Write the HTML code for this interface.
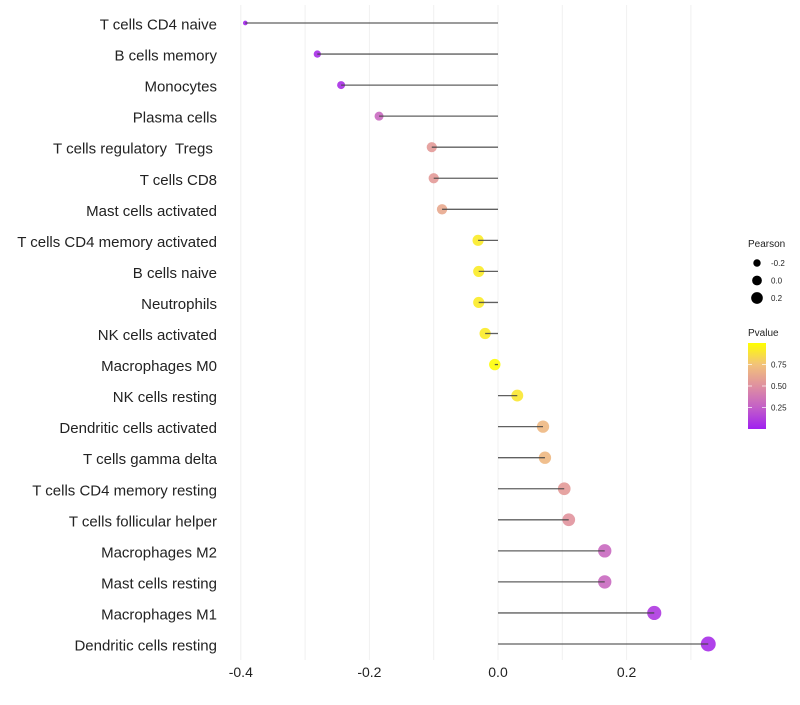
<!DOCTYPE html>
<html><head><meta charset="utf-8"><style>
body{margin:0;background:#fff;font-family:"Liberation Sans",sans-serif}
text{white-space:pre}
</style></head><body>
<svg id="chart" width="800" height="700"></svg>
<script>
const categories=["T cells CD4 naive","B cells memory","Monocytes","Plasma cells","T cells regulatory  Tregs ","T cells CD8","Mast cells activated","T cells CD4 memory activated","B cells naive","Neutrophils","NK cells activated","Macrophages M0","NK cells resting","Dendritic cells activated","T cells gamma delta","T cells CD4 memory resting","T cells follicular helper","Macrophages M2","Mast cells resting","Macrophages M1","Dendritic cells resting"];
const pearson=[-0.393,-0.281,-0.244,-0.185,-0.103,-0.100,-0.087,-0.031,-0.030,-0.030,-0.020,-0.005,0.030,0.070,0.073,0.103,0.110,0.166,0.166,0.243,0.327];
const pvalues=[0.02,0.05,0.06,0.3,0.55,0.55,0.62,0.92,0.92,0.92,0.92,0.99,0.9,0.7,0.7,0.55,0.52,0.3,0.3,0.1,0.05];
const xTicks=[-0.4,-0.2,0.0,0.2];
const xTickLabels=["-0.4","-0.2","0.0","0.2"];
const sizeLegend=[-0.2,0.0,0.2];
const colorTicks=[0.25,0.5,0.75];

const NS="http://www.w3.org/2000/svg";
const svg=document.getElementById('chart');
function el(t,a,p){const e=document.createElementNS(NS,t);for(const k in a)e.setAttribute(k,a[k]);(p||svg).appendChild(e);return e;}
const x=v=>498+v*643;
const y=i=>23+i*31.05;
const r=v=>Math.sqrt(Math.max(1,33+70*v));
const stops=[[0,[160,32,240]],[0.25,[195,95,200]],[0.5,[223,144,160]],[0.75,[242,194,122]],[1,[255,255,0]]];
function col(p){for(let i=1;i<stops.length;i++){if(p<=stops[i][0]){const a=stops[i-1],b=stops[i],t=(p-a[0])/(b[0]-a[0]);const c=a[1].map((v,k)=>Math.round(v+(b[1][k]-v)*t));return `rgb(${c})`;}}return 'rgb(255,255,0)';}

const grid=el('g',{});


[-0.4,-0.3,-0.2,-0.1,0,0.1,0.2,0.3].forEach(v=>{el('line',{x1:x(v),x2:x(v),y1:5,y2:660,stroke:'#f0f0f0','stroke-width':1},grid);});

xTicks.forEach((v,i)=>{
  const t=el('text',{x:x(v),y:677,'text-anchor':'middle','font-size':14,fill:'#222'});
  t.textContent=xTickLabels[i];
  
  
});

categories.forEach((c,i)=>{
  const t=el('text',{x:217,y:y(i)+6.5,'text-anchor':'end','font-size':15,fill:'#222'});
  t.textContent=c;
  
  
  const pt=el('circle',{cx:x(pearson[i]),cy:y(i),r:r(pearson[i]),fill:col(pvalues[i]),'fill-opacity':0.9});
  
  
  const ln=el('line',{x1:x(0),x2:x(pearson[i]),y1:y(i),y2:y(i),stroke:'#444','stroke-width':1.3,'stroke-opacity':0.85});
  
  
});

const lg=el('g',{});


const lt=el('text',{x:748,y:247,'font-size':10,fill:'#222'},lg);lt.textContent='Pearson';
sizeLegend.forEach((v,i)=>{
  const cy=263+i*17.5;
  const c=el('circle',{cx:757,cy:cy,r:r(v)*0.85,fill:'#000'},lg);
  
  
  const t=el('text',{x:771,y:cy+3,'font-size':8,fill:'#222'},lg);t.textContent=v.toFixed(1);
});
const pt2=el('text',{x:748,y:336,'font-size':10,fill:'#222'},lg);pt2.textContent='Pvalue';
const defs=el('defs',{});
const gr=el('linearGradient',{id:'pg',x1:0,y1:1,x2:0,y2:0},defs);
stops.forEach(s=>el('stop',{offset:s[0],'stop-color':`rgb(${s[1]})`},gr));
const bar=el('rect',{x:748,y:343,width:18,height:86,fill:'url(#pg)'},lg);


const cy=p=>429-p*86;
colorTicks.forEach(p=>{
  el('line',{x1:748,x2:752,y1:cy(p),y2:cy(p),stroke:'#fff','stroke-opacity':0.7},lg);
  el('line',{x1:762,x2:766,y1:cy(p),y2:cy(p),stroke:'#fff','stroke-opacity':0.7},lg);
  const t=el('text',{x:771,y:cy(p)+3,'font-size':8,fill:'#222'},lg);t.textContent=p.toFixed(2);
});
</script>
</body></html>
